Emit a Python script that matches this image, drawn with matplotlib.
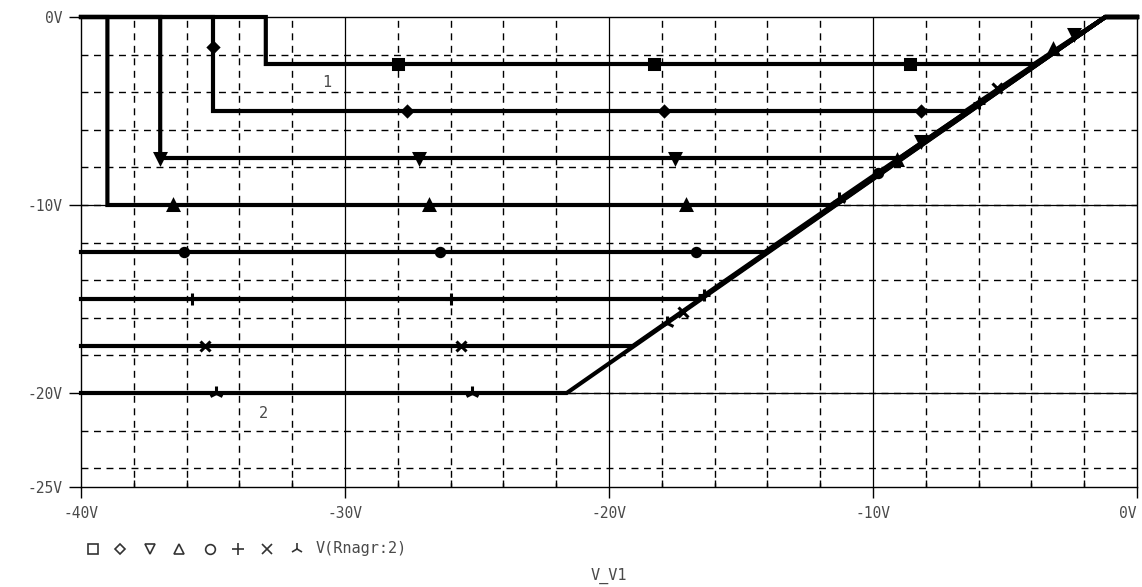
import matplotlib
matplotlib.use('Agg')
import matplotlib.pyplot as plt
import numpy as np

# clamp levels of the eight sweep traces
levels = [-2.5, -5.0, -7.5, -10.0, -12.5, -15.0, -17.5, -20.0]
# x where the first four traces step down from 0 V (None = already low at -40 V)
drop_x = [-33.0, -35.0, -37.0, -39.0, None, None, None, None]
# x where each level meets the common ramp
knee_x = [-3.9, -6.5, -9.0, -11.6, -14.1, -16.6, -19.1, -21.6]
ramp_top_x = -1.2

# marker points along each trace
mark_x = [
    [-28.0, -18.3, -8.6],
    [-35.0, -27.65, -17.9, -8.2],
    [-37.0, -27.2, -17.5, -8.2, -2.4],
    [-36.5, -26.8, -17.1, -9.1, -3.2],
    [-36.1, -26.4, -16.7, -9.8],
    [-35.8, -26.0, -16.4, -6.0],
    [-35.3, -25.6, -17.2, -5.3],
    [-34.9, -25.2, -17.8, -11.3],
]
mark_y = [
    [-2.5, -2.5, -2.5],
    [-1.6, -5.0, -5.0, -5.0],
    [-7.5, -7.5, -7.5, -6.6, -0.9],
    [-10.0, -10.0, -10.0, -7.6, -1.7],
    [-12.5, -12.5, -12.5, -8.3],
    [-15.0, -15.0, -14.8, -4.6],
    [-17.5, -17.5, -15.7, -3.8],
    [-20.0, -20.0, -16.3, -9.7],
]
markers = ['s', 'D', 'v', '^', 'o', '+', 'x', '2']
msizes = [7.5, 5.5, 6.5, 6.5, 6, 8, 7, 10]

x_ticks = [-40, -30, -20, -10, 0]
x_labels = ['-40V', '-30V', '-20V', '-10V', '0V']
y_ticks = [0, -10, -20, -25]
y_labels = ['0V', '-10V', '-20V', '-25V']
trace_name = 'V(Rnagr:2)'
sweep_name = 'V_V1'

mono = 'DejaVu Sans Mono'
txt = '#4a4a4a'

fig = plt.figure(figsize=(11.42, 5.87), dpi=100)
ax = fig.add_axes([81 / 1142, 1 - 487 / 587, 1056 / 1142, 470 / 587])
ax.set_xlim(-40, 0)
ax.set_ylim(-25, 0)

# grid: solid at majors, dashed every 2 V
for gx in np.arange(-38, 0, 2):
    if gx % 10 == 0:
        ax.axvline(gx, color='black', lw=0.9, zorder=1)
    else:
        ax.axvline(gx, color='black', lw=1.0, ls=(2, (5, 4)), zorder=1)
for gy in np.arange(-24, 0, 2):
    ax.axhline(gy, color='black', lw=1.0, ls=(0, (5, 4)), zorder=1)
for gy in [-10, -20]:
    ax.axhline(gy, color='black', lw=0.9, zorder=1)

for i, lev in enumerate(levels):
    if drop_x[i] is not None:
        xs = [-40, drop_x[i], drop_x[i], knee_x[i], ramp_top_x, 0]
        ys = [0, 0, lev, lev, 0, 0]
    else:
        xs = [-40, knee_x[i], ramp_top_x, 0]
        ys = [lev, lev, 0, 0]
    ax.plot(xs, ys, color='black', lw=3.0, solid_joinstyle='miter',
            clip_on=False, zorder=3)
    ax.plot(mark_x[i], mark_y[i], ls='none', marker=markers[i],
            ms=msizes[i], color='black', mew=2.2, clip_on=False, zorder=4)

ax.text(-30.7, -3.5, '1', fontsize=11, family=mono, color=txt,
        ha='center', va='center')
ax.text(-33.1, -21.1, '2', fontsize=11, family=mono, color=txt,
        ha='center', va='center')

ax.set_xticks(x_ticks)
ax.set_xticklabels(x_labels)
ax.set_yticks(y_ticks)
ax.set_yticklabels(y_labels)
ax.set_xticks(np.arange(-38, 0, 2), minor=True)
ax.tick_params(axis='x', which='major', direction='out', length=8,
               width=1, pad=6, labelsize=10.5, labelcolor=txt)
ax.tick_params(axis='x', which='minor', direction='in', length=5, width=1)
ax.tick_params(axis='y', which='major', direction='out', length=9,
               width=1, pad=4, labelsize=10.5, labelcolor=txt)
for lab in ax.get_xticklabels() + ax.get_yticklabels():
    lab.set_family(mono)
# keep the 0V label inside the right edge
ax.get_xticklabels()[-1].set_horizontalalignment('right')
for sp in ax.spines.values():
    sp.set_linewidth(1.0)
    sp.set_color('black')

# legend row: trace symbols followed by the trace name
leg_x = [93, 120, 150, 179, 210, 238, 267, 297]
leg_marks = ['s', 'D', 'v', '^', 'o', '+', 'x', '2']
leg_ms = [7, 5, 7, 7, 7, 8, 7, 9]
for lx, m, s in zip(leg_x, leg_marks, leg_ms):
    fig.lines.append(plt.Line2D([lx / 1142], [1 - 549 / 587], ls='none',
                                marker=m, ms=s, mfc='none', mec='#333333',
                                mew=1.2, transform=fig.transFigure))
fig.text(316 / 1142, 1 - 549 / 587, trace_name, fontsize=11, family=mono,
         color=txt, ha='left', va='center')
fig.text(609 / 1142, 1 - 576 / 587, sweep_name, fontsize=11, family=mono,
         color=txt, ha='center', va='center')

fig.savefig('out.png', dpi=100)
